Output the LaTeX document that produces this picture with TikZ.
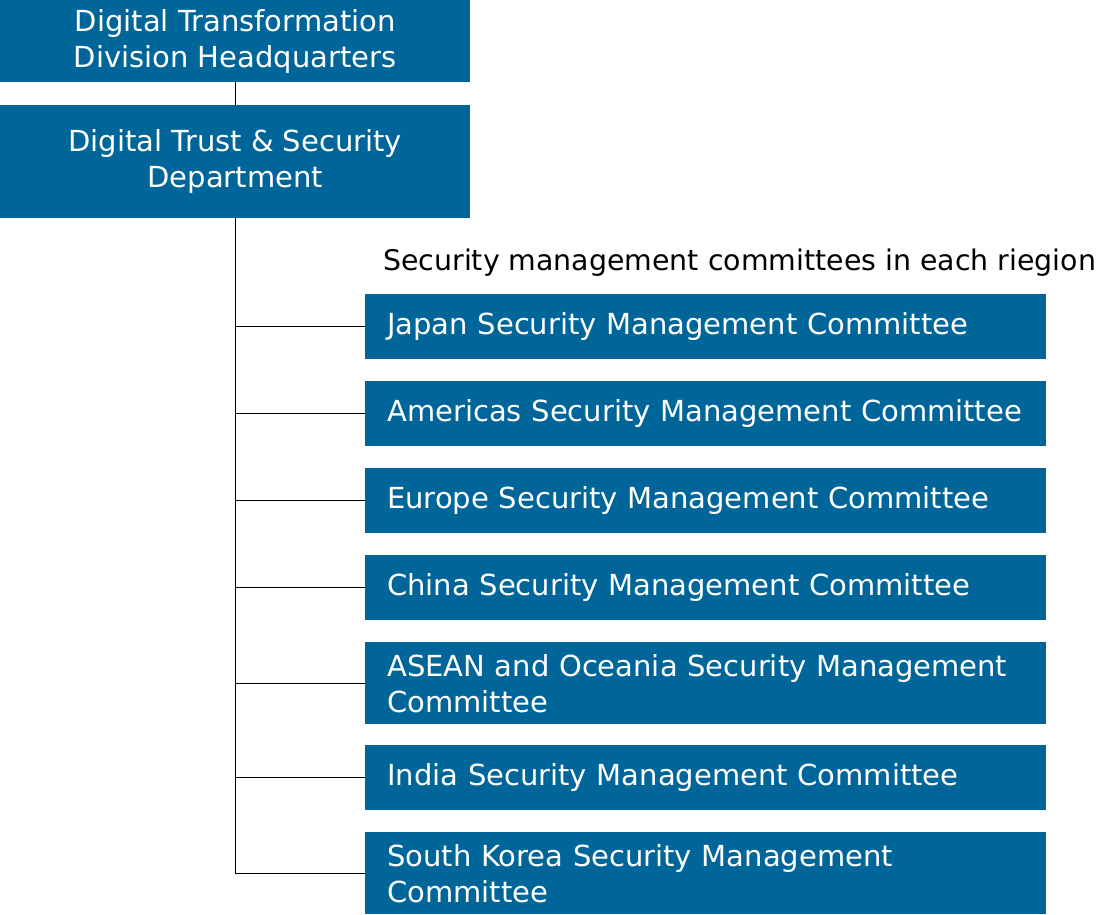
\documentclass[tikz,border=0pt]{standalone}
\usepackage{fontspec}
\setmainfont{DejaVu Sans}
\usepackage{tikz}
\definecolor{boxblue}{RGB}{0,101,153}
\tikzset{
	orgbox/.style={fill=boxblue, text=white, anchor=north west, inner sep=0pt, align=center,
		font=\fontsize{29}{36}\selectfont},
	cmtbox/.style={fill=boxblue, text=white, anchor=north west, inner xsep=22pt, inner ysep=0pt,
		text width=637pt, minimum height=65pt, align=left, font=\fontsize{29}{36}\selectfont},
	link/.style={line width=0.9pt, color=black}
}

\begin{document}
\begin{tikzpicture}[x=1pt, y=-1pt]
			%%%%% START %%%%%
			\useasboundingbox (0, 0) rectangle (1109, 914);
			
			\node[orgbox, minimum width=470pt, minimum height=82pt] (hq) at (0, 0) {Digital Transformation\\Division Headquarters};
			\node[orgbox, minimum width=470pt, minimum height=113pt] (dept) at (0, 105) {Digital Trust \& Security\\Department};
			
			\node[anchor=west, inner sep=0pt, font=\fontsize{28.4}{36}\selectfont] (title) at (383, 263) {Security management committees in each riegion};
			
			\node[cmtbox] (japan) at (365, 294) {Japan Security Management Committee};
			\node[cmtbox] (americas) at (365, 381) {Americas Security Management Committee};
			\node[cmtbox] (europe) at (365, 468) {Europe Security Management Committee};
			\node[cmtbox] (china) at (365, 555) {China Security Management Committee};
			\node[cmtbox, minimum height=82pt] (asean) at (365, 642) {ASEAN and Oceania Security Management\\Committee};
			\node[cmtbox] (india) at (365, 745) {India Security Management Committee};
			\node[cmtbox, minimum height=82pt] (korea) at (365, 832) {South Korea Security Management\\Committee};
			
			\draw[link] (hq) -- (dept);
			\foreach \n in {japan, americas, europe, china, asean, india, korea}
				\draw[link] (dept.south) |- (\n.west);
			%%%%% END %%%%%
\end{tikzpicture}
\end{document}
